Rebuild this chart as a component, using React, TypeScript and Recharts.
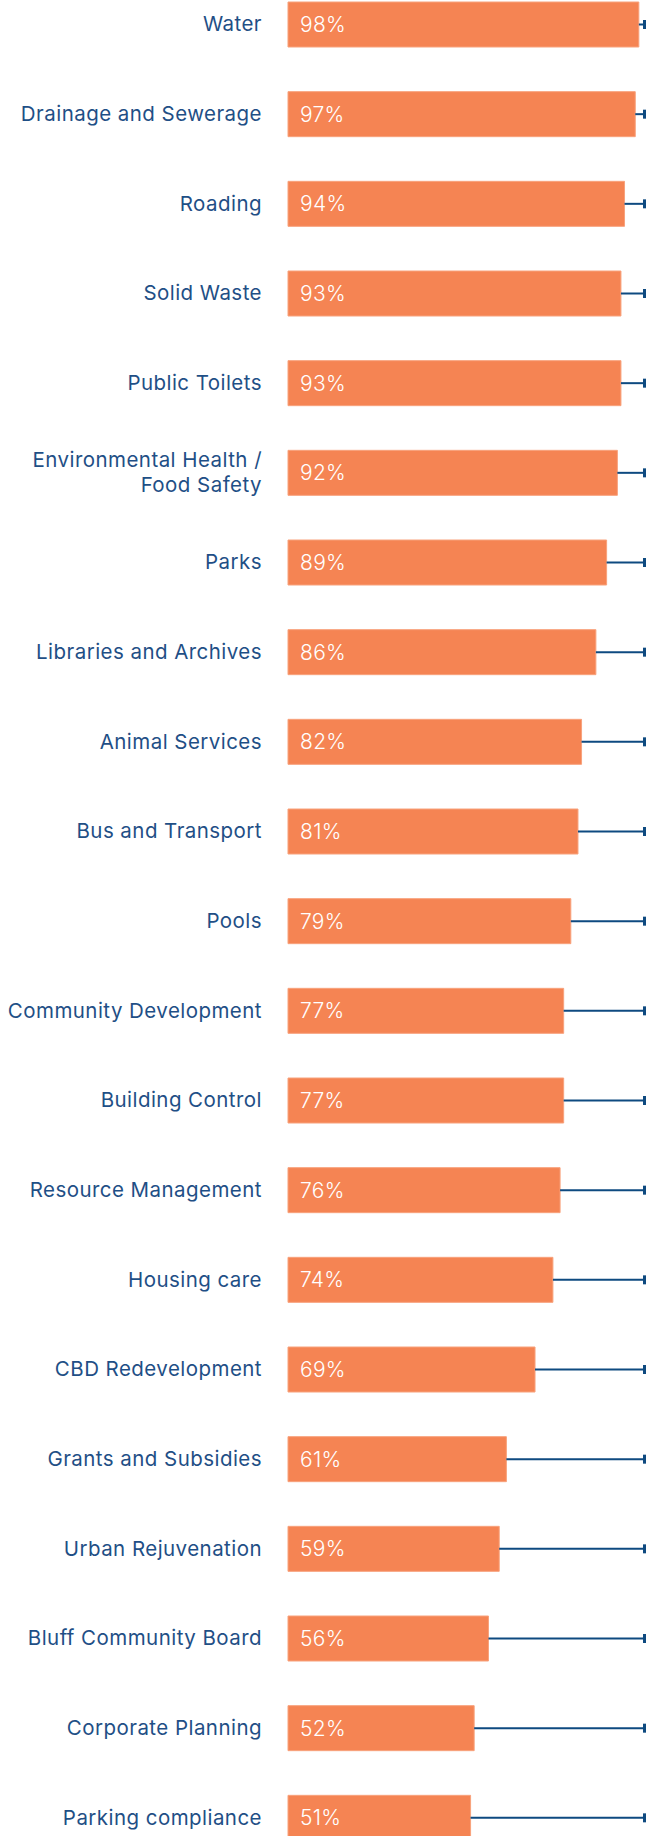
import { Bar, BarChart, LabelList, XAxis, YAxis } from 'recharts'

const categories = [
  'Water',
  'Drainage and Sewerage',
  'Roading',
  'Solid Waste',
  'Public Toilets',
  'Environmental Health / Food Safety',
  'Parks',
  'Libraries and Archives',
  'Animal Services',
  'Bus and Transport',
  'Pools',
  'Community Development',
  'Building Control',
  'Resource Management',
  'Housing care',
  'CBD Redevelopment',
  'Grants and Subsidies',
  'Urban Rejuvenation',
  'Bluff Community Board',
  'Corporate Planning',
  'Parking compliance',
]

const satisfied = [98, 97, 94, 93, 93, 92, 89, 86, 82, 81, 79, 77, 77, 76, 74, 69, 61, 59, 56, 52, 51]

const chartData = categories.map((name, i) => ({
  name,
  value: satisfied[i],
  rest: 100 - satisfied[i],
}))

const font = 'Inter, Roboto, sans-serif'
const labelColor = '#1f4f86'
const lineColor = '#0e4a80'

function CategoryTick({ x, y, payload }: any) {
  const text: string = payload.value
  const lines = text.includes(' / ')
    ? [text.slice(0, text.indexOf(' / ') + 2), text.slice(text.indexOf(' / ') + 3)]
    : [text]
  const lineHeight = 25
  return (
    <text
      x={x}
      y={y - 1.5}
      textAnchor='end'
      fill={labelColor}
      fontSize={20.5}
      letterSpacing={0.45}
      fontFamily={font}
      dominantBaseline='central'
    >
      {lines.map((line, i) => (
        <tspan
          key={i}
          x={x}
          dy={i === 0 ? (-(lines.length - 1) * lineHeight) / 2 : lineHeight}
        >
          {line}
        </tspan>
      ))}
    </text>
  )
}

function RestLine({ x, y, width, height }: any) {
  const cy = y + height / 2
  const end = x + width
  return (
    <g>
      <line x1={x} y1={cy} x2={end} y2={cy} stroke={lineColor} strokeWidth={2} />
      <line
        x1={end - 1.5}
        y1={cy - 4.5}
        x2={end - 1.5}
        y2={cy + 4.5}
        stroke={lineColor}
        strokeWidth={3}
      />
    </g>
  )
}

export default function App() {
  return (
    <div
      style={{
        position: 'absolute',
        top: 0,
        left: 0,
        width: 646,
        height: 1836,
        overflow: 'hidden',
        background: '#fff',
      }}
    >
      <div style={{ marginTop: -20.5 }}>
        <BarChart
          layout='vertical'
          width={646}
          height={1883}
          data={chartData}
          margin={{ top: 0, right: 0, bottom: 0, left: 0 }}
          barSize={45}
        >
          <XAxis type='number' domain={[0, 100]} hide />
          <YAxis
            type='category'
            dataKey='name'
            width={288}
            axisLine={false}
            tickLine={false}
            tickSize={0}
            tickMargin={26}
            interval={0}
            tick={<CategoryTick />}
          />
          <Bar
            dataKey='value'
            stackId='a'
            fill='#f58453'
            stroke='#f8a27c'
            strokeWidth={1}
            isAnimationActive={false}
          >
            <LabelList
              dataKey='value'
              position='insideLeft'
              offset={12}
              formatter={(v: any) => `${v}%`}
              fill='#ffffff'
              fontSize={21}
              letterSpacing={0.3}
              fontWeight={300}
              fontFamily={font}
            />
          </Bar>
          <Bar dataKey='rest' stackId='a' shape={<RestLine />} isAnimationActive={false} />
        </BarChart>
      </div>
    </div>
  )
}
